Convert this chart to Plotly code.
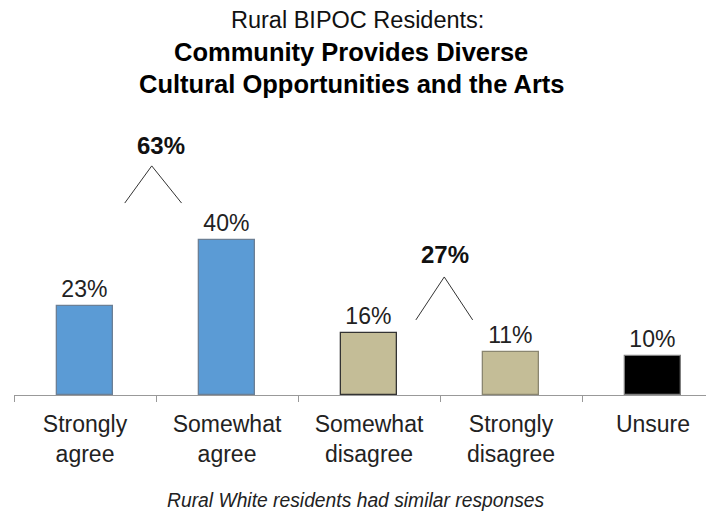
import plotly.graph_objects as go

categories = ["Strongly<br>agree", "Somewhat<br>agree", "Somewhat<br>disagree", "Strongly<br>disagree", "Unsure"]
values = [23, 40, 16, 11, 10]
value_labels = ["23%", "40%", "16%", "11%", "10%"]
bar_colors = ["#5B9BD5", "#5B9BD5", "#C4BD97", "#C4BD97", "#000000"]
bar_outlines = ["#6B7F95", "#6B7F95", "#333333", "#8A8670", "#7F7F7F"]

net_labels = ["63%", "27%"]
# bracket (left x, apex x, right x, foot y, apex y, label x, label y) in data units
net_brackets = [
    (0.28, 0.47, 0.68, 49.6, 59.2, 0.535, 64.6),
    (2.33, 2.53, 2.73, 19.4, 30.5, 2.535, 36.2),
]

FONT = "Arial, Liberation Sans, sans-serif"

fig = go.Figure()
fig.add_trace(go.Bar(
    x=categories, y=values, width=0.4,
    marker=dict(color=bar_colors, line=dict(color=bar_outlines, width=1.3)),
    text=value_labels, textposition="outside", cliponaxis=False,
    textfont=dict(family=FONT, size=23, color="#222222"),
    hoverinfo="skip",
))

shapes = []
annotations = []
for (xl, xa, xr, yf, ya, xt, yt), lab in zip(net_brackets, net_labels):
    shapes.append(dict(type="path", xref="x", yref="y",
                       path=f"M {xl},{yf} L {xa},{ya} L {xr},{yf}",
                       line=dict(color="#333333", width=1)))
    annotations.append(dict(x=xt, y=yt, xref="x", yref="y", text=f"<b>{lab}</b>",
                            showarrow=False, font=dict(family=FONT, size=24, color="#111111")))

OFF = 8  # default page body margin
TOP, BASE = 100, 395  # page pixel rows of plot top and baseline
PX_PER_CAT = 142
W, H = 714, 517
L = 14 - OFF
PLOT_W = W - L

def px(page_x):
    return (page_x - (L + OFF)) / PLOT_W

def py(page_y):
    return (BASE - page_y) / (BASE - TOP)

annotations += [
    dict(x=px(357), y=py(20), text="Rural BIPOC Residents:",
         font=dict(family=FONT, size=23.5, color="#111111")),
    dict(x=px(351), y=py(52), text="<b>Community Provides Diverse</b>",
         font=dict(family=FONT, size=25.5, color="#000000")),
    dict(x=px(351), y=py(84), text="<b>Cultural Opportunities and the Arts</b>",
         font=dict(family=FONT, size=25.5, color="#000000")),
    dict(x=px(356), y=py(500), text="<i>Rural White residents had similar responses</i>",
         font=dict(family=FONT, size=19.3, color="#222222")),
]
for a in annotations[2:]:
    a.update(xref="paper", yref="paper", showarrow=False, xanchor="center", yanchor="middle")

fig.update_layout(
    width=W, height=H,
    margin=dict(l=L, r=0, t=TOP - OFF, b=H - (BASE - OFF)),
    plot_bgcolor="white", paper_bgcolor="white",
    showlegend=False,
    bargap=0,
    xaxis=dict(
        type="category",
        range=[-0.5, -0.5 + PLOT_W / PX_PER_CAT],
        tickson="boundaries", ticks="outside", ticklen=6, tickcolor="#999999",
        showline=True, linecolor="#999999", linewidth=1.3,
        showgrid=False, zeroline=False,
        ticklabelstandoff=8,
        tickfont=dict(family=FONT, size=23, color="#222222"),
    ),
    yaxis=dict(range=[0, (BASE - TOP) / 3.87], visible=False, showgrid=False, zeroline=False),
    shapes=shapes,
    annotations=annotations,
)

fig.write_html("out.html")
